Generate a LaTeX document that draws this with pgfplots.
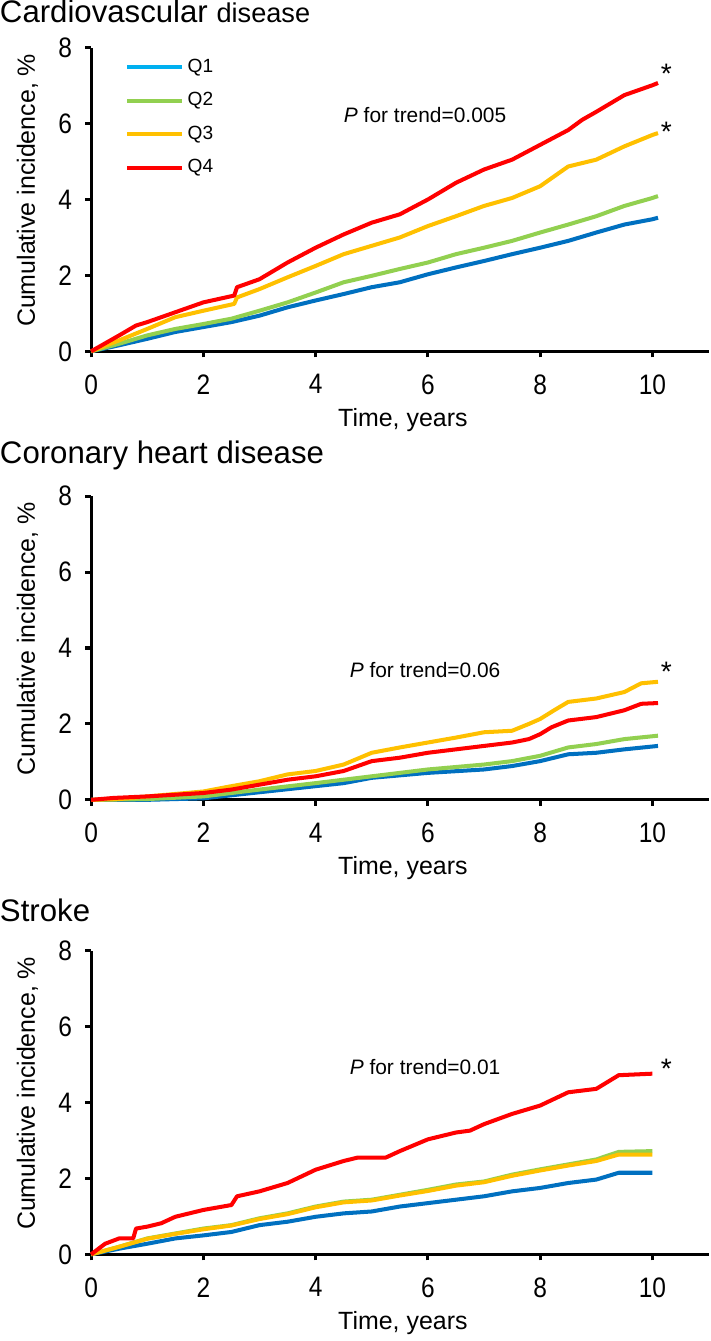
\documentclass[border=0pt]{standalone}
\usepackage{fontspec}
\setmainfont{Liberation Sans}
\newfontfamily\narrowfont[FakeStretch=0.87]{Liberation Sans}
\usepackage{pgfplots}
\pgfplotsset{compat=1.18}

\definecolor{qone}{HTML}{0070C0}
\definecolor{qonel}{HTML}{00B0F0}
\definecolor{qtwo}{HTML}{92D050}
\definecolor{qthree}{HTML}{FFC000}
\definecolor{qfour}{HTML}{FF0000}

\pgfplotsset{
  panel/.style={
    scale only axis, width=307pt, height=151pt,
    anchor=south west,
    xmin=0, xmax=11, ymin=0, ymax=8,
    axis lines*=left,
    axis line style={line width=1.5pt},
    xtick={0,2,...,10}, ytick={0,2,...,8},
    tick align=outside, major tick length=3pt,
    tick style={line width=1.5pt, black},
    tick label style={font=\narrowfont\fontsize{14}{16}\selectfont},
    /pgf/number format/assume math mode=true,
    xticklabel style={yshift=-5pt},
    yticklabel style={xshift=-3pt},
    xlabel={Time, years},
    ylabel={Cumulative incidence, \%},
    every axis x label/.style={at={(axis description cs:0.505,-0.225)}, anchor=center,
      font=\fontsize{12.4}{14}\selectfont},
    every axis y label/.style={at={(axis description cs:-0.103,0.53)}, anchor=center, rotate=90,
      font=\fontsize{12.4}{14}\selectfont},
    clip=false,
    every axis plot/.append style={line width=2pt, line join=round},
  },
}

\begin{document}
\begin{tikzpicture}
% panel titles
\node[anchor=west, inner sep=0pt, font=\fontsize{15.5}{18}\selectfont] at (-45.5pt,-9pt) {Cardiovascular {\fontsize{13.5}{16}\selectfont disease}};
\node[anchor=west, inner sep=0pt, font=\fontsize{15.5}{18}\selectfont] at (-45.5pt,-230pt) {Coronary heart disease};
\node[anchor=west, inner sep=0pt, font=\fontsize{15.5}{18}\selectfont] at (-45.5pt,-456pt) {Stroke};

% Cardiovascular disease
\begin{axis}[panel, at={(0pt,-178pt)},
  legend style={draw=none, fill=none, at={(axis description cs:0.045,0.99)}, anchor=north west,
    font=\fontsize{9.5}{11}\selectfont, row sep=4.5pt, legend cell align=left},
  legend image code/.code={\draw[#1, line width=2pt] (0pt,0pt) -- (27pt,0pt);},
]
\addlegendimage{qonel}\addlegendentry{Q1}
\addlegendimage{qtwo}\addlegendentry{Q2}
\addlegendimage{qthree}\addlegendentry{Q3}
\addlegendimage{qfour}\addlegendentry{Q4}
\addplot[qone, forget plot] coordinates {(0,0) (0.5,0.16) (1,0.33) (1.5,0.51) (2,0.64) (2.5,0.77) (3,0.94) (3.5,1.16) (4,1.34) (4.5,1.51) (5,1.69) (5.5,1.82) (6,2.03) (6.5,2.21) (7,2.38) (7.5,2.56) (8,2.73) (8.5,2.91) (9,3.13) (9.5,3.34) (10,3.48) (10.1,3.52)};
\addplot[qtwo, forget plot] coordinates {(0,0) (0.5,0.20) (1,0.42) (1.5,0.59) (2,0.72) (2.5,0.86) (3,1.07) (3.5,1.29) (4,1.55) (4.5,1.82) (5,1.99) (5.5,2.17) (6,2.34) (6.5,2.56) (7,2.73) (7.5,2.91) (8,3.13) (8.5,3.34) (9,3.56) (9.5,3.83) (10,4.04) (10.1,4.09)};
\addplot[qthree, forget plot] coordinates {(0,0) (0.5,0.29) (1,0.59) (1.5,0.90) (2,1.07) (2.55,1.25) (2.6,1.42) (3,1.64) (3.5,1.95) (4,2.25) (4.5,2.56) (5,2.78) (5.5,3.00) (6,3.30) (6.5,3.56) (7,3.83) (7.5,4.04) (8,4.35) (8.25,4.61) (8.5,4.87) (9,5.05) (9.5,5.40) (10,5.70) (10.1,5.75)};
\addplot[qfour, forget plot] coordinates {(0,0) (0.5,0.42) (0.8,0.68) (1,0.77) (1.5,1.03) (2,1.29) (2.55,1.47) (2.6,1.69) (3,1.90) (3.5,2.34) (4,2.73) (4.5,3.08) (5,3.39) (5.5,3.61) (6,4.00) (6.5,4.44) (7,4.79) (7.5,5.05) (8,5.44) (8.5,5.83) (8.75,6.10) (9,6.31) (9.5,6.75) (10,7.01) (10.1,7.07)};
\node[font=\fontsize{10.4}{12}\selectfont] at (axis cs:5.95,6.23) {\textit{P} for trend=0.005};
\node[font=\fontsize{14}{16}\selectfont] at (axis cs:10.25,7.3) {*};
\node[font=\fontsize{14}{16}\selectfont] at (axis cs:10.25,5.78) {*};
\end{axis}

% Coronary heart disease
\begin{axis}[panel, at={(0pt,-401pt)}]
\addplot[qone] coordinates {(0,0) (1,0) (2,0.04) (3,0.20) (4,0.36) (4.5,0.44) (5,0.58) (6,0.71) (7,0.80) (7.5,0.89) (8,1.02) (8.5,1.20) (9,1.24) (9.5,1.33) (10.1,1.42)};
\addplot[qtwo] coordinates {(0,0) (1,0.02) (2,0.09) (3,0.27) (4,0.44) (5,0.62) (6,0.80) (7,0.93) (7.5,1.02) (8,1.16) (8.5,1.38) (9,1.47) (9.5,1.60) (10.1,1.69)};
\addplot[qthree] coordinates {(0,0) (0.5,0.02) (1,0.09) (2,0.22) (2.5,0.36) (3,0.49) (3.5,0.67) (4,0.76) (4.5,0.93) (5,1.24) (5.5,1.38) (6,1.51) (6.5,1.64) (7,1.78) (7.5,1.82) (7.8,2.00) (8,2.13) (8.25,2.36) (8.5,2.58) (9,2.67) (9.5,2.84) (9.8,3.07) (10.1,3.11)};
\addplot[qfour] coordinates {(0,0) (0.4,0.05) (1,0.09) (2,0.18) (2.5,0.27) (3,0.40) (3.5,0.53) (4,0.62) (4.5,0.76) (5,1.02) (5.5,1.11) (6,1.24) (6.5,1.33) (7,1.42) (7.5,1.51) (7.8,1.60) (8,1.73) (8.2,1.91) (8.5,2.09) (9,2.18) (9.5,2.36) (9.8,2.53) (10.1,2.55)};
\node[font=\fontsize{10.4}{12}\selectfont] at (axis cs:5.95,3.42) {\textit{P} for trend=0.06};
\node[font=\fontsize{14}{16}\selectfont] at (axis cs:10.25,3.36) {*};
\end{axis}

% Stroke
\begin{axis}[panel, at={(0pt,-627pt)}]
\addplot[qone] coordinates {(0,0) (0.5,0.15) (1,0.28) (1.5,0.42) (2,0.50) (2.5,0.59) (3,0.77) (3.5,0.86) (4,0.99) (4.5,1.08) (5,1.13) (5.5,1.26) (6,1.35) (6.5,1.44) (7,1.53) (7.5,1.66) (8,1.75) (8.5,1.88) (9,1.97) (9.4,2.15) (10,2.15)};
\addplot[qtwo] coordinates {(0,0) (0.5,0.20) (1,0.42) (1.5,0.55) (2,0.68) (2.5,0.77) (3,0.95) (3.5,1.08) (4,1.26) (4.5,1.39) (5,1.44) (5.5,1.57) (6,1.70) (6.5,1.84) (7,1.92) (7.5,2.10) (8,2.24) (8.5,2.37) (9,2.50) (9.4,2.70) (10,2.72)};
\addplot[qthree] coordinates {(0,0) (0.5,0.20) (1,0.41) (1.5,0.54) (2,0.66) (2.5,0.76) (3,0.93) (3.5,1.06) (4,1.24) (4.5,1.37) (5,1.42) (5.5,1.55) (6,1.67) (6.5,1.81) (7,1.90) (7.5,2.07) (8,2.21) (8.5,2.34) (9,2.46) (9.4,2.63) (10,2.63)};
\addplot[qfour] coordinates {(0,0) (0.25,0.28) (0.5,0.42) (0.75,0.42) (0.8,0.68) (1,0.73) (1.25,0.82) (1.5,0.99) (2,1.17) (2.5,1.30) (2.6,1.53) (3,1.66) (3.5,1.88) (4,2.23) (4.5,2.46) (4.75,2.55) (5.25,2.55) (5.5,2.72) (6,3.03) (6.5,3.21) (6.75,3.26) (7,3.43) (7.5,3.70) (8,3.92) (8.5,4.27) (9,4.36) (9.4,4.72) (10,4.76)};
\node[font=\fontsize{10.4}{12}\selectfont] at (axis cs:5.95,4.94) {\textit{P} for trend=0.01};
\node[font=\fontsize{14}{16}\selectfont] at (axis cs:10.25,4.9) {*};
\end{axis}
\end{tikzpicture}
\end{document}
